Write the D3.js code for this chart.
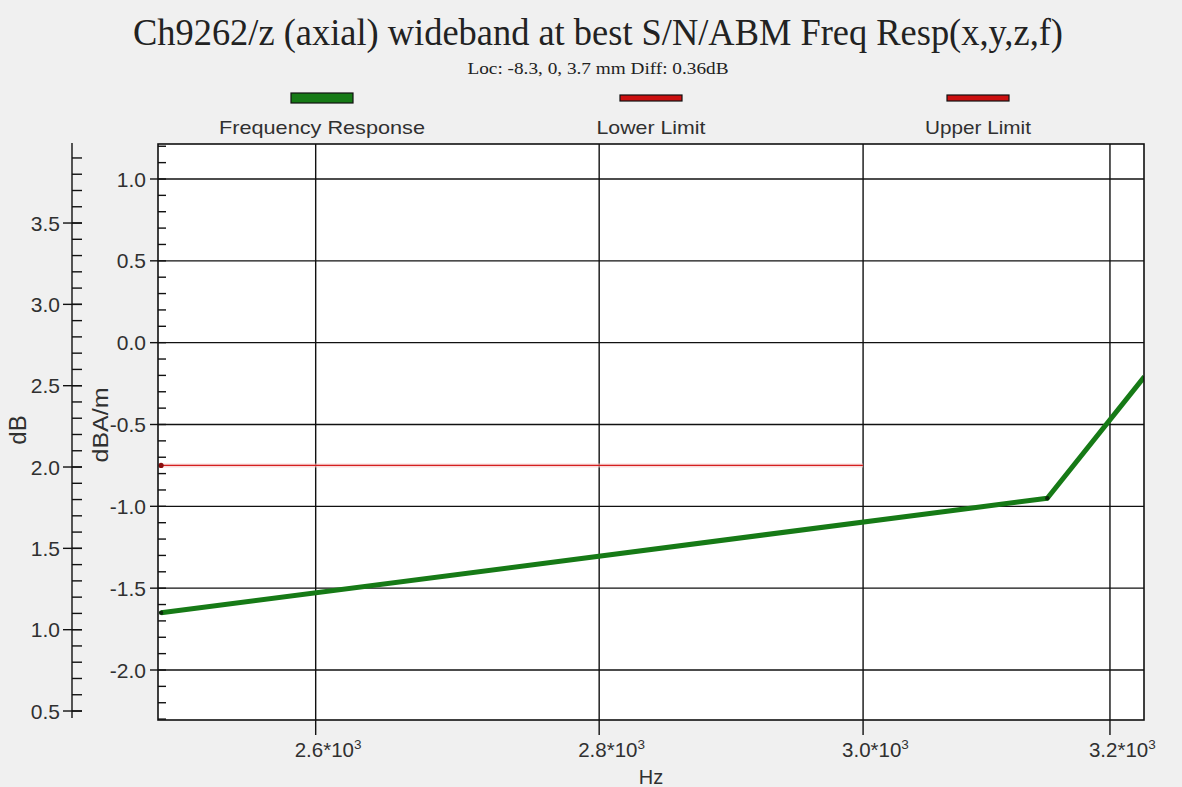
<!DOCTYPE html>
<html>
<head>
<meta charset="utf-8">
<script src="https://cdn.jsdelivr.net/npm/d3@7"></script>
<style>
  html, body { margin: 0; padding: 0; background: #f0f0f0; }
  svg { display: block; }
  text { font-family: "Liberation Sans", Arial, sans-serif; fill: #303030; }
</style>
</head>
<body>
<svg id="chart" width="1182" height="787"></svg>
<script>
// ---- data ----
const titleText = "Ch9262/z (axial) wideband at best S/N/ABM Freq Resp(x,y,z,f)";
const subtitleText = "Loc: -8.3, 0, 3.7 mm Diff: 0.36dB";

const legendNames = ["Frequency Response", "Lower Limit", "Upper Limit"];
const legendColors = ["#167a16", "#cc1010", "#cc1010"];

// frequency response (Hz, dBA/m)
const respFreq = [2497, 3148, 3229];
const respValue = [-1.65, -0.951, -0.207];

// lower limit (Hz, dBA/m)
const limitFreq = [2497, 3000];
const limitValue = [-0.75, -0.75];

const xTickValues = [2600, 2800, 3000, 3200];
const xTickLabels = ["2.6*10", "2.8*10", "3.0*10", "3.2*10"];
const xTickExp = ["3", "3", "3", "3"];

const innerMajor = [1.0, 0.5, 0.0, -0.5, -1.0, -1.5, -2.0];
const outerMajor = [3.5, 3.0, 2.5, 2.0, 1.5, 1.0, 0.5];

// ---- layout ----
const svg = d3.select("#chart");
const plot = { left: 158, top: 144, right: 1144, bottom: 720 };

const x = d3.scaleLog().domain([2495, 3228.6]).range([plot.left, plot.right]);
const y = d3.scaleLinear().domain([-2.3055, 1.2138]).range([plot.bottom, plot.top]);
const yOuter = d3.scaleLinear().domain([0.457, 3.992]).range([718, 143]);

// plain hyphen for negative numbers
const fmt = v => d3.format(".1f")(v).replace("\u2212", "-");

// background
svg.append("rect").attr("width", 1182).attr("height", 787).attr("fill", "#f0f0f0");
svg.append("rect")
  .attr("x", plot.left).attr("y", plot.top)
  .attr("width", plot.right - plot.left).attr("height", plot.bottom - plot.top)
  .attr("fill", "#ffffff");

// title block
svg.append("text")
  .attr("x", 598).attr("y", 45)
  .attr("text-anchor", "middle")
  .attr("textLength", 930).attr("lengthAdjust", "spacingAndGlyphs")
  .style("font-family", "'Liberation Serif', 'Times New Roman', serif")
  .style("font-size", "37px").style("fill", "#222")
  .text(titleText);
svg.append("text")
  .attr("x", 598).attr("y", 74)
  .attr("text-anchor", "middle")
  .attr("textLength", 261).attr("lengthAdjust", "spacingAndGlyphs")
  .style("font-family", "'Liberation Serif', 'Times New Roman', serif")
  .style("font-size", "17px").style("fill", "#222")
  .text(subtitleText);

// legend
const legendX = [322, 651, 978];
const legendW = [206, 109, 106];
legendNames.forEach((name, i) => {
  const h = i === 0 ? 10 : 6;
  svg.append("rect")
    .attr("x", legendX[i] - 31).attr("y", 98 - h / 2)
    .attr("width", 62).attr("height", h)
    .attr("fill", legendColors[i]).attr("stroke", "#111").attr("stroke-width", 1.2);
  svg.append("text")
    .attr("x", legendX[i]).attr("y", 134)
    .attr("text-anchor", "middle")
    .attr("textLength", legendW[i]).attr("lengthAdjust", "spacingAndGlyphs")
    .style("font-size", "19px")
    .text(name);
});

// gridlines
const grid = svg.append("g").attr("stroke", "#111").attr("stroke-width", 1.4);
innerMajor.forEach(v => {
  grid.append("line").attr("x1", plot.left).attr("x2", plot.right)
    .attr("y1", y(v)).attr("y2", y(v));
});
xTickValues.forEach(v => {
  grid.append("line").attr("x1", x(v)).attr("x2", x(v))
    .attr("y1", plot.top).attr("y2", plot.bottom + 15);
});

// inner (dBA/m) axis: minor ticks every 0.1 pointing into the plot
const innerMinor = d3.range(-23, 13).map(d => d / 10);
const innerAxis = svg.append("g").attr("stroke", "#111").attr("stroke-width", 1.4);
innerMinor.forEach(v => {
  innerAxis.append("line").attr("x1", plot.left).attr("x2", plot.left + 8)
    .attr("y1", y(v)).attr("y2", y(v));
});
innerMajor.forEach(v => {
  innerAxis.append("line").attr("x1", plot.left - 8).attr("x2", plot.left)
    .attr("y1", y(v)).attr("y2", y(v));
  svg.append("text")
    .attr("x", 146).attr("y", y(v)).attr("dy", "0.36em")
    .attr("text-anchor", "end")
    .style("font-size", "21px")
    .text(fmt(v));
});

// outer (dB) axis
const outerAxis = svg.append("g").attr("stroke", "#111").attr("stroke-width", 1.4);
outerAxis.append("line").attr("x1", 72).attr("x2", 72).attr("y1", 143).attr("y2", 718);
d3.range(5, 40).map(d => d / 10).forEach(v => {
  outerAxis.append("line").attr("x1", 72).attr("x2", 82)
    .attr("y1", yOuter(v)).attr("y2", yOuter(v));
});
outerMajor.forEach(v => {
  outerAxis.append("line").attr("x1", 63).attr("x2", 82)
    .attr("y1", yOuter(v)).attr("y2", yOuter(v));
  svg.append("text")
    .attr("x", 60).attr("y", yOuter(v)).attr("dy", "0.36em")
    .attr("text-anchor", "end")
    .style("font-size", "21px")
    .text(fmt(v));
});

// x tick labels with exponent
xTickValues.forEach((v, i) => {
  const t = svg.append("text")
    .attr("x", x(v) - 21).attr("y", 757)
    .style("font-size", "20.5px");
  t.append("tspan").text(xTickLabels[i]);
  t.append("tspan").attr("dy", -8).style("font-size", "13.5px").text(xTickExp[i]);
});

// axis titles
svg.append("text")
  .attr("transform", "translate(651,784)")
  .attr("text-anchor", "middle")
  .style("font-size", "20px")
  .text("Hz");
svg.append("text")
  .attr("transform", "translate(26,430) rotate(-90)")
  .attr("text-anchor", "middle")
  .style("font-size", "24px")
  .text("dB");
svg.append("text")
  .attr("transform", "translate(108,425) rotate(-90)")
  .attr("text-anchor", "middle")
  .attr("textLength", 75).attr("lengthAdjust", "spacingAndGlyphs")
  .style("font-size", "22px")
  .text("dBA/m");

// series
svg.append("clipPath").attr("id", "plotClip")
  .append("rect")
  .attr("x", plot.left).attr("y", plot.top)
  .attr("width", plot.right - plot.left).attr("height", plot.bottom - plot.top);
const series = svg.append("g").attr("clip-path", "url(#plotClip)");

const lineGen = d3.line().x(d => x(d[0])).y(d => y(d[1]));

const limitPts = limitFreq.map((f, i) => [f, limitValue[i]]);
series.append("path").datum(limitPts)
  .attr("d", lineGen).attr("fill", "none")
  .attr("stroke", "#f7c4c4").attr("stroke-width", 4).attr("opacity", 0.6);
series.append("path").datum(limitPts)
  .attr("d", lineGen).attr("fill", "none")
  .attr("stroke", "#d42020").attr("stroke-width", 1.4);
series.append("circle")
  .attr("cx", x(limitFreq[0])).attr("cy", y(limitValue[0])).attr("r", 2.6)
  .attr("fill", "#8a0d0d");

const respPts = respFreq.map((f, i) => [f, respValue[i]]);
series.append("path").datum(respPts)
  .attr("d", lineGen).attr("fill", "none")
  .attr("stroke", "#167a16").attr("stroke-width", 5)
  .attr("stroke-linejoin", "round");
respPts.slice(0, 2).forEach(p => {
  series.append("circle")
    .attr("cx", x(p[0])).attr("cy", y(p[1])).attr("r", 2.2)
    .attr("fill", "#0a2a0a");
});

// plot frame
svg.append("rect")
  .attr("x", plot.left).attr("y", plot.top)
  .attr("width", plot.right - plot.left).attr("height", plot.bottom - plot.top)
  .attr("fill", "none").attr("stroke", "#111").attr("stroke-width", 1.6);
</script>
</body>
</html>
